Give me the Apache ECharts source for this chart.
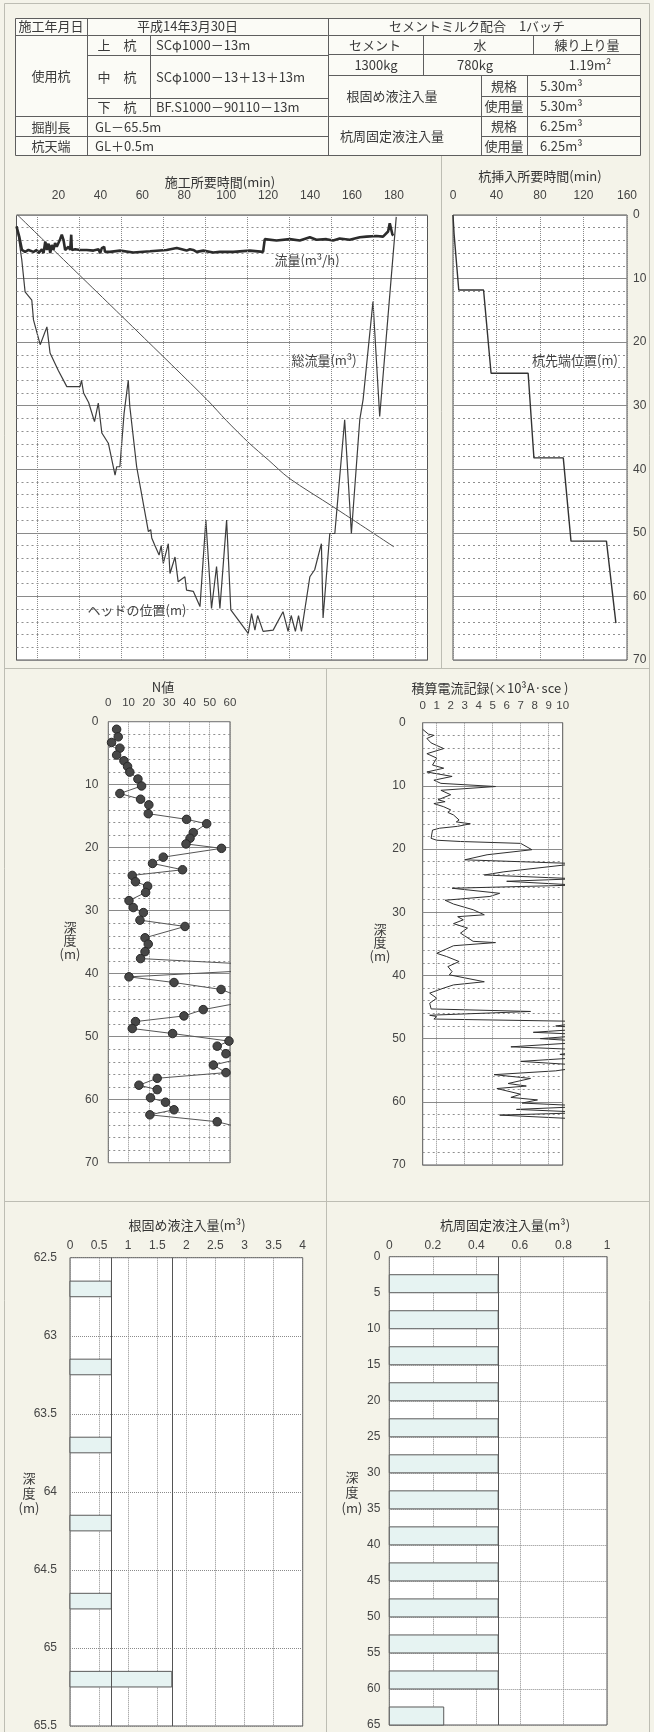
<!DOCTYPE html>
<html>
<head>
<meta charset="utf-8">
<script src="https://cdn.jsdelivr.net/npm/echarts@6/dist/echarts.min.js"></script>
<style>
  html, body { margin: 0; padding: 0; background: #f4f3e9; }
  #c { width: 654px; height: 1732px; }
</style>
</head>
<body>
<div id="c"></div>
<script>
// ---------- 施工記録 (time in minutes vs. depth scale, 0–70) ----------
const constructionTickLabels = [20, 40, 60, 80, 100, 120, 140, 160, 180];
const headTrace = [
  [0.2,1.8],[2.5,7],[4.1,12.1],[7.3,13.4],[8.1,16.5],[11.3,20.4],[14.5,17.6],[16,21.7],[20,24.5],[24,27],
  [30.3,27],[31,26],[32,28],[34.4,29.5],[37.2,32.5],[39,29.6],[40.7,34.3],[43.8,35.9],[47,40.9],[47.8,39.6],
  [49.3,39.6],[51.3,31.2],[53.3,26],[54,30],[57.3,39.6],[62.9,49.8],[64,49.5],[64.5,50.8],[65.2,50.6],[66,52],
  [68,53.5],[69,52],[70,54.8],[72.4,51.7],[73.2,56.4],[75.6,53.8],[77.1,57.7],[80.3,56.9],[81.1,59],[84.3,59.2],
  [87.5,61.6],[90.3,48],[93,61.9],[95.4,55.3],[97,61.9],[100.2,48],[102.2,62.1],[110.5,65.8],[112.1,62.7],
  [113.7,65.3],[115,63],[117.6,65.5],[122.4,65.3],[127.1,62.4],[129.5,65.5],[131,63],[133,65.5],[134.5,63],
  [135.9,65.5],[139.9,56.9],[142.2,55.8],[145.4,51.7],[146.2,63.4],[149.4,50.1],[151.8,50.1],[156.5,32.2],
  [159.7,50.1],[163.7,32.2],[165.3,29],[170,13.6],[173.2,31.7],[181.1,0.3]
];
const flowTrace = [
  [0,1.8],[1.3,3.4],[2.6,5.5],[4.1,5.8],[5.7,5.5],[8.1,5.8],[9.7,5.5],[10.5,6.0],[12.1,5.4],[12.9,6.0],
  [13.7,4.2],[14.5,5.5],[15.3,4.5],[16.1,6.0],[16.8,4.7],[17.6,5.5],[18.4,4.4],[19.2,5.0],[20.8,3.8],[21.6,3.1],
  [22.4,3.9],[23.2,5.5],[24,5.4],[24.8,5.0],[25.6,5.5],[26.1,3.1],[26.4,5.5],[28,5.4],[30.3,5.5],[33.5,5.5],
  [36.7,5.6],[39.1,5.4],[39.9,6.0],[40.7,5.2],[41.8,5.0],[42.2,5.8],[44.6,5.8],[49.4,5.6],[55.7,5.9],[63.7,5.7],
  [71.6,5.5],[76.4,5.2],[78.8,5.4],[81.1,5.6],[82.7,5.4],[84.3,5.5],[85.9,5.8],[89.1,5.6],[93.8,5.9],[97,5.8],
  [103.4,5.8],[111.3,5.6],[117.6,5.8],[118.4,3.8],[124,4.0],[130.3,3.8],[135.1,4.0],[139.9,3.5],[143,3.9],
  [147.8,3.8],[151,4.0],[154.1,3.7],[158.9,3.9],[163.7,3.5],[166.9,3.4],[171.6,3.3],[174.8,3.4],[177.2,2.6],
  [178,1.3],[179.3,3.1],[179.8,3.2]
];
const totalFlowTrace = [
  [0.5,0],[57,18.1],[91,29.1],[100,32.3],[111,35.9],[120,38.5],[130,41.4],[151,45.9],[180,52.2]
];

// ---------- 杭挿入 (time in minutes vs. pile tip depth) ----------
const insertionTickLabels = [0, 40, 80, 120, 160];
const pileTipTrace = [
  [0,0],[1,3],[5.3,11.8],[28.1,11.8],[35,24.9],[69.1,24.9],[74.4,38.2],[101.4,38.2],
  [108.5,51.3],[141.1,51.3],[149.8,64.2]
];

// ---------- N値 (N value, depth m) ----------
const nValueTrace = [
  [4.1,1.2],[4.9,2.4],[1.6,3.3],[5.7,4.2],[4.1,5.3],[7.7,6.2],[9.5,7.1],[10.6,8.0],[14.6,9.1],[16.4,10.2],
  [5.7,11.4],[15.9,12.3],[20,13.2],[19.7,14.6],[38.6,15.5],[48.5,16.2],[41.9,17.6],[40.3,18.5],[38.3,19.4],
  [55.8,20.1],[27.1,21.5],[21.8,22.5],[36.6,23.5],[11.8,24.4],[13.4,25.4],[19.4,26.1],[18.4,27.1],[10.2,28.4],
  [12.3,29.5],[17.3,30.3],[15.6,31.5],[37.8,32.5],[18.1,34.3],[19.7,35.3],[18.1,36.5],[15.9,37.6],[100,39],
  [10.2,40.5],[32.4,41.4],[55.6,42.5],[70,44.3],[46.8,45.7],[37.3,46.7],[13.4,47.6],[11.8,48.7],[31.7,49.5],
  [59.5,50.7],[53.7,51.5],[58,52.7],[65,53.5],[51.8,54.5],[58,55.7],[24.1,56.6],[15.1,57.7],[24.1,58.4],
  [20.8,59.7],[28.2,60.4],[32.4,61.6],[20.5,62.4],[53.7,63.5],[70,64.8]
];

// ---------- 積算電流記録 (x10^3 A·sec, depth m) ----------
const currentTrace = [
  [0,1.05],[0.4,1.8],[0.8,2.0],[0.3,2.5],[0.6,3.2],[1.5,4.1],[0.3,4.9],[1.0,5.6],[0.7,6.7],[1.5,7.2],
  [0.3,7.8],[2.1,8.5],[0.8,9.1],[1.3,9.6],[5.2,10.1],[1.3,10.7],[2.0,11.4],[1.1,12.2],[1.6,12.5],[0.8,12.8],
  [1.5,13.3],[2.0,13.8],[1.8,14.2],[2.2,14.6],[2.6,15.4],[2.4,15.7],[3.4,16.0],[2.5,16.4],[1.2,16.7],[0.7,17.0],
  [0.6,18.3],[1.0,18.6],[2.7,18.8],[7.0,19.1],[7.8,20.1],[4.6,20.9],[3.0,21.7],[11,22.3],[5.8,23.6],[4.4,24.1],
  [11,24.7],[6.0,25.1],[11,25.7],[2.1,26.2],[5.5,27.0],[4.8,27.5],[1.6,28.1],[2.2,28.7],[3.6,29.6],[4.4,30.4],
  [2.5,30.7],[2.9,31.2],[2.2,31.8],[3.2,32.5],[2.7,33.3],[3.6,34.6],[5.2,34.8],[2.2,35.3],[1.0,36.5],[1.7,37.0],
  [2.6,37.8],[1.8,38.6],[2.1,39.4],[1.9,39.9],[4.4,41.0],[2.2,41.5],[1.5,42.0],[0.5,42.8],[1.0,43.6],[0.5,44.4],
  [0.6,45.3],[7.7,45.7],[0.5,46.3],[1.0,46.5],[0.8,46.9],[12,47.3],[9.5,48.0],[12,48.4],[7.9,49.0],[12,49.4],
  [8.4,50.0],[12,50.5],[6.3,51.3],[12,51.8],[9.8,52.5],[12,52.9],[7.0,53.6],[12,54.3],[9.5,55.1],[5.1,55.7],
  [7.7,56.3],[6.1,57.1],[7.4,57.5],[5.3,57.9],[7.0,58.8],[6.3,59.3],[8.2,59.7],[7.1,60.2],[12,60.7],[6.7,61.2],
  [12,61.7],[5.5,62.1],[12,62.8]
];

// ---------- 根固め液注入量 (m3) by depth band ----------
const baseInjTop    = [62.65, 63.15, 63.65, 64.15, 64.65, 65.15];
const baseInjBottom = [62.75, 63.25, 63.75, 64.25, 64.75, 65.25];
const baseInjVolume = [0.71, 0.71, 0.71, 0.71, 0.71, 1.75];

// ---------- 杭周固定液注入量 (m3) by depth band ----------
const shaftInjTop    = [2.5, 7.5, 12.5, 17.5, 22.5, 27.5, 32.5, 37.5, 42.5, 47.5, 52.5, 57.5, 62.5];
const shaftInjBottom = [5, 10, 15, 20, 25, 30, 35, 40, 45, 50, 55, 60, 65];
const shaftInjVolume = [0.5, 0.5, 0.5, 0.5, 0.5, 0.5, 0.5, 0.5, 0.5, 0.5, 0.5, 0.5, 0.25];

// ---------- dotted reference rules that fall between labelled ticks ----------
const rulesConstruction = [10, 30, 50, 70, 90, 110, 130, 150, 170, 190];
const rulesCurrent = [1, 3, 5, 7, 9];

// ---------- styling ----------
const NUM_FONT = '"Liberation Sans", Arial, sans-serif';
const JP_FONT = '"Noto Sans CJK JP", "Noto Sans", sans-serif';
const LABEL_COLOR = '#444';
const SOLID_GRID = '#8a8a8a';
const DOT_GRID = '#8a8a8a';

const gridBox = { show: true, borderColor: '#555', borderWidth: 1, backgroundColor: '#ffffff' };

function numLabel(extra) {
  return Object.assign({ color: LABEL_COLOR, fontSize: 12, fontFamily: NUM_FONT }, extra);
}

function xTop(gridIndex, min, max, interval, labelMargin, opts) {
  opts = opts || {};
  return {
    type: 'value', gridIndex, min, max, interval, position: 'top',
    axisLine: { show: false }, axisTick: { show: false },
    axisLabel: numLabel(Object.assign({ margin: labelMargin, showMinLabel: true, showMaxLabel: true }, opts.label || {})),
    splitLine: opts.dotted ? { show: true, lineStyle: { color: DOT_GRID, type: 'dotted', width: 1 } } : { show: false }
  };
}

function yDepth(gridIndex, min, max, interval, opts) {
  opts = opts || {};
  return {
    type: 'value', gridIndex, min, max, interval, inverse: true,
    position: opts.position || 'left',
    axisLine: { show: false }, axisTick: { show: false },
    axisLabel: opts.hideLabel ? { show: false } : numLabel({ margin: opts.margin }),
    splitLine: { show: true, lineStyle: opts.dotted
      ? { color: DOT_GRID, type: 'dotted', width: 1 }
      : { color: SOLID_GRID, type: 'solid', width: 1 } }
  };
}

// unlabeled depth axis carrying the 2 m dashed rules
function yMinor(gridIndex) {
  return {
    type: 'value', gridIndex, min: 0, max: 70, interval: 2, inverse: true, position: 'left',
    axisLine: { show: false }, axisTick: { show: false }, axisLabel: { show: false },
    splitLine: { show: true, lineStyle: { color: '#8f8f8f', type: [2, 3], width: 1 } }
  };
}

function markRules(axis, values, color, type) {
  return {
    silent: true, symbol: 'none', animation: false,
    label: { show: false },
    lineStyle: { color, type, width: 1 },
    data: values.map(v => ({ [axis]: v }))
  };
}

// horizontal injection bands drawn through the axis scales
function bandRender(params, api) {
  const topLeft = api.coord([0, api.value(0)]);
  const bottomRight = api.coord([api.value(2), api.value(1)]);
  return {
    type: 'rect',
    shape: { x: topLeft[0], y: topLeft[1], width: bottomRight[0] - topLeft[0], height: bottomRight[1] - topLeft[1] },
    style: { fill: '#e6f3f2', stroke: '#5a5a5a', lineWidth: 1 }
  };
}

const baseInjData = baseInjTop.map((t, i) => [t, baseInjBottom[i], baseInjVolume[i]]);
const shaftInjData = shaftInjTop.map((t, i) => [t, shaftInjBottom[i], shaftInjVolume[i]]);

// ---------- page furniture: table, panel dividers, titles ----------
const RULE = '#5e5e5e';
function hl(x1, x2, y, c) { return { type: 'line', silent: true, shape: { x1, y1: y, x2, y2: y }, style: { stroke: c || RULE, lineWidth: 1 } }; }
function vl(x, y1, y2, c) { return { type: 'line', silent: true, shape: { x1: x, y1, x2: x, y2 }, style: { stroke: c || RULE, lineWidth: 1 } }; }
function txt(s, x, y, align, size, color) {
  return {
    type: 'text', silent: true, x, y, z: 10,
    style: { text: s, fill: color || '#3a3a3a', fontSize: size || 13, fontFamily: JP_FONT, align: align || 'center', verticalAlign: 'middle' }
  };
}
function stacked(x, y0, step) {
  return [txt('深', x, y0), txt('度', x, y0 + step), txt('(m)', x, y0 + 2 * step)];
}

const PANEL = '#bdbdb3';
const graphics = [
  { type: 'rect', silent: true, shape: { x: 4.5, y: 3.5, width: 645, height: 1740 }, style: { fill: 'none', stroke: PANEL, lineWidth: 1 } },
  vl(441.5, 155, 668, PANEL), hl(4, 650, 668.5, PANEL),
  vl(326.5, 668, 1732, PANEL), hl(4, 650, 1201.5, PANEL),

  // table
  { type: 'rect', silent: true, shape: { x: 15.5, y: 18.5, width: 625, height: 137 }, style: { fill: '#fbfbf6', stroke: RULE, lineWidth: 1 } },
  hl(15, 640, 35.5), hl(87, 328, 55.5), hl(328, 640, 54.5), hl(328, 640, 75.5),
  hl(87, 328, 98.5), hl(481, 640, 96.5), hl(15, 640, 116.5), hl(15, 328, 136.5), hl(481, 640, 136.5),
  vl(87.5, 18, 155), vl(150.5, 35, 116.5), vl(328.5, 18, 155), vl(423.5, 35, 75), vl(533.5, 35, 54.5),
  vl(481.5, 75, 155), vl(527.5, 75, 155),

  txt('施工年月日', 51, 26.5), txt('平成14年3月30日', 137, 26.5, 'left'),
  txt('使用杭', 51, 76.5),
  txt('上　杭', 117, 45), txt('中　杭', 117, 77), txt('下　杭', 117, 107.5),
  txt('SCφ1000－13m', 156, 45, 'left'),
  txt('SCφ1000－13＋13＋13m', 156, 77, 'left'),
  txt('BF.S1000－90110－13m', 156, 107.5, 'left'),
  txt('掘削長', 51, 127), txt('GL－65.5m', 95, 127, 'left'),
  txt('杭天端', 51, 146.5), txt('GL＋0.5m', 95, 146.5, 'left'),

  txt('セメントミルク配合　1バッチ', 477, 26.5),
  txt('セメント', 375, 45), txt('水', 480, 45), txt('練り上り量', 587, 45),
  txt('1300kg', 376, 65), txt('780kg', 475, 65), txt('1.19m²', 590, 65),
  txt('根固め液注入量', 392, 96.5),
  txt('規格', 504, 86.5), txt('5.30m³', 540, 86.5, 'left'),
  txt('使用量', 504, 106.5), txt('5.30m³', 540, 106.5, 'left'),
  txt('杭周固定液注入量', 392, 136.5),
  txt('規格', 504, 126.5), txt('6.25m³', 540, 126.5, 'left'),
  txt('使用量', 504, 146.5), txt('6.25m³', 540, 146.5, 'left'),

  // chart titles
  txt('施工所要時間(min)', 220, 182, 'center', 13, '#333'),
  txt('杭挿入所要時間(min)', 540, 176, 'center', 13, '#333'),
  txt('N値', 163, 687, 'center', 13, '#333'),
  txt('積算電流記録(×10³A·sce )', 490, 688, 'center', 13, '#333'),
  txt('根固め液注入量(m³)', 187, 1225, 'center', 13, '#333'),
  txt('杭周固定液注入量(m³)', 505, 1225, 'center', 13, '#333'),

  // series captions
  txt('流量(m³/h)', 307, 260, 'center', 13, '#444'),
  txt('総流量(m³)', 324, 360, 'center', 13, '#444'),
  txt('ヘッドの位置(m)', 137, 610, 'center', 13, '#444'),
  txt('杭先端位置(m)', 575, 360, 'center', 13, '#444'),

  ...stacked(70, 927, 13.5),
  ...stacked(380, 929, 13.5),
  ...stacked(29, 1478, 15),
  ...stacked(352, 1477, 15.5)
];

const option = {
  backgroundColor: '#f4f3e9',
  animation: false,
  grid: [
    Object.assign({ left: 16.5, top: 215, width: 411, height: 445 }, gridBox),
    Object.assign({ left: 453, top: 215, width: 174, height: 445 }, gridBox),
    Object.assign({ left: 108.3, top: 721.7, width: 121.7, height: 441 }, gridBox),
    Object.assign({ left: 422.7, top: 722.7, width: 140, height: 442.3 }, gridBox),
    Object.assign({ left: 70, top: 1257.7, width: 232.7, height: 469.3 }, gridBox),
    Object.assign({ left: 389.3, top: 1256.7, width: 217.7, height: 468.3 }, gridBox)
  ],
  xAxis: [
    xTop(0, 0, 196, 20, 13, { label: { formatter: v => constructionTickLabels.includes(v) ? String(v) : '' } }),
    xTop(1, 0, 160, 40, 13, { dotted: true, label: { formatter: v => insertionTickLabels.includes(v) ? String(v) : '' } }),
    xTop(2, 0, 60, 10, 13, { dotted: true, label: { fontSize: 11.5 } }),
    xTop(3, 0, 10, 1, 11, { label: { fontSize: 11.5 } }),
    xTop(4, 0, 4, 0.5, 6, { dotted: true }),
    xTop(5, 0, 1, 0.2, 5, { dotted: true })
  ],
  yAxis: [
    // dashed 2 m rules sit underneath the solid 10 m rules
    yMinor(0), yMinor(1), yMinor(2), yMinor(3),
    yDepth(0, 0, 70, 10, { hideLabel: true }),
    yDepth(1, 0, 70, 10, { position: 'right', margin: 6 }),
    yDepth(2, 0, 70, 10, { margin: 10 }),
    yDepth(3, 0, 70, 10, { margin: 17 }),
    yDepth(4, 62.5, 65.5, 0.5, { margin: 13, dotted: true }),
    yDepth(5, 0, 65, 5, { margin: 9, dotted: true })
  ],
  series: [
    {
      name: '総流量', type: 'line', xAxisIndex: 0, yAxisIndex: 4, z: 2,
      data: totalFlowTrace, showSymbol: false, smooth: 0.3,
      lineStyle: { color: '#505050', width: 1 },
      markLine: markRules('xAxis', rulesConstruction, DOT_GRID, 'dotted')
    },
    {
      name: 'ヘッドの位置', type: 'line', xAxisIndex: 0, yAxisIndex: 4, z: 3,
      data: headTrace, showSymbol: false,
      lineStyle: { color: '#3d3d3d', width: 1.2 }
    },
    {
      name: '流量', type: 'line', xAxisIndex: 0, yAxisIndex: 4, z: 4,
      data: flowTrace, showSymbol: false,
      lineStyle: { color: '#2c2c2c', width: 2.6 }
    },
    {
      name: '杭先端位置', type: 'line', xAxisIndex: 1, yAxisIndex: 5, z: 3,
      data: pileTipTrace, showSymbol: false,
      lineStyle: { color: '#333', width: 1.4 }
    },
    {
      name: 'N値', type: 'line', xAxisIndex: 2, yAxisIndex: 6, z: 3, clip: true,
      data: nValueTrace, symbol: 'circle', symbolSize: 8.5, showSymbol: true,
      itemStyle: { color: '#474747', borderColor: '#2a2a2a', borderWidth: 1 },
      lineStyle: { color: '#555', width: 1 }
    },
    {
      name: '積算電流', type: 'line', xAxisIndex: 3, yAxisIndex: 7, z: 3, clip: true,
      data: currentTrace, showSymbol: false,
      lineStyle: { color: '#2f2f2f', width: 1 },
      markLine: markRules('xAxis', rulesCurrent, DOT_GRID, 'dotted')
    },
    {
      name: '根固め液注入量', type: 'custom', xAxisIndex: 4, yAxisIndex: 8, z: 3,
      renderItem: bandRender, data: baseInjData, encode: { x: 2, y: [0, 1] },
      markLine: markRules('xAxis', [...new Set(baseInjVolume)], '#555', 'solid')
    },
    {
      name: '杭周固定液注入量', type: 'custom', xAxisIndex: 5, yAxisIndex: 9, z: 3,
      renderItem: bandRender, data: shaftInjData, encode: { x: 2, y: [0, 1] },
      markLine: markRules('xAxis', [Math.max(...shaftInjVolume)], '#555', 'solid')
    }
  ],
  graphic: graphics
};

const chart = echarts.init(document.getElementById('c'), null, { renderer: 'canvas', width: 654, height: 1732 });
chart.setOption(option);
</script>
</body>
</html>
